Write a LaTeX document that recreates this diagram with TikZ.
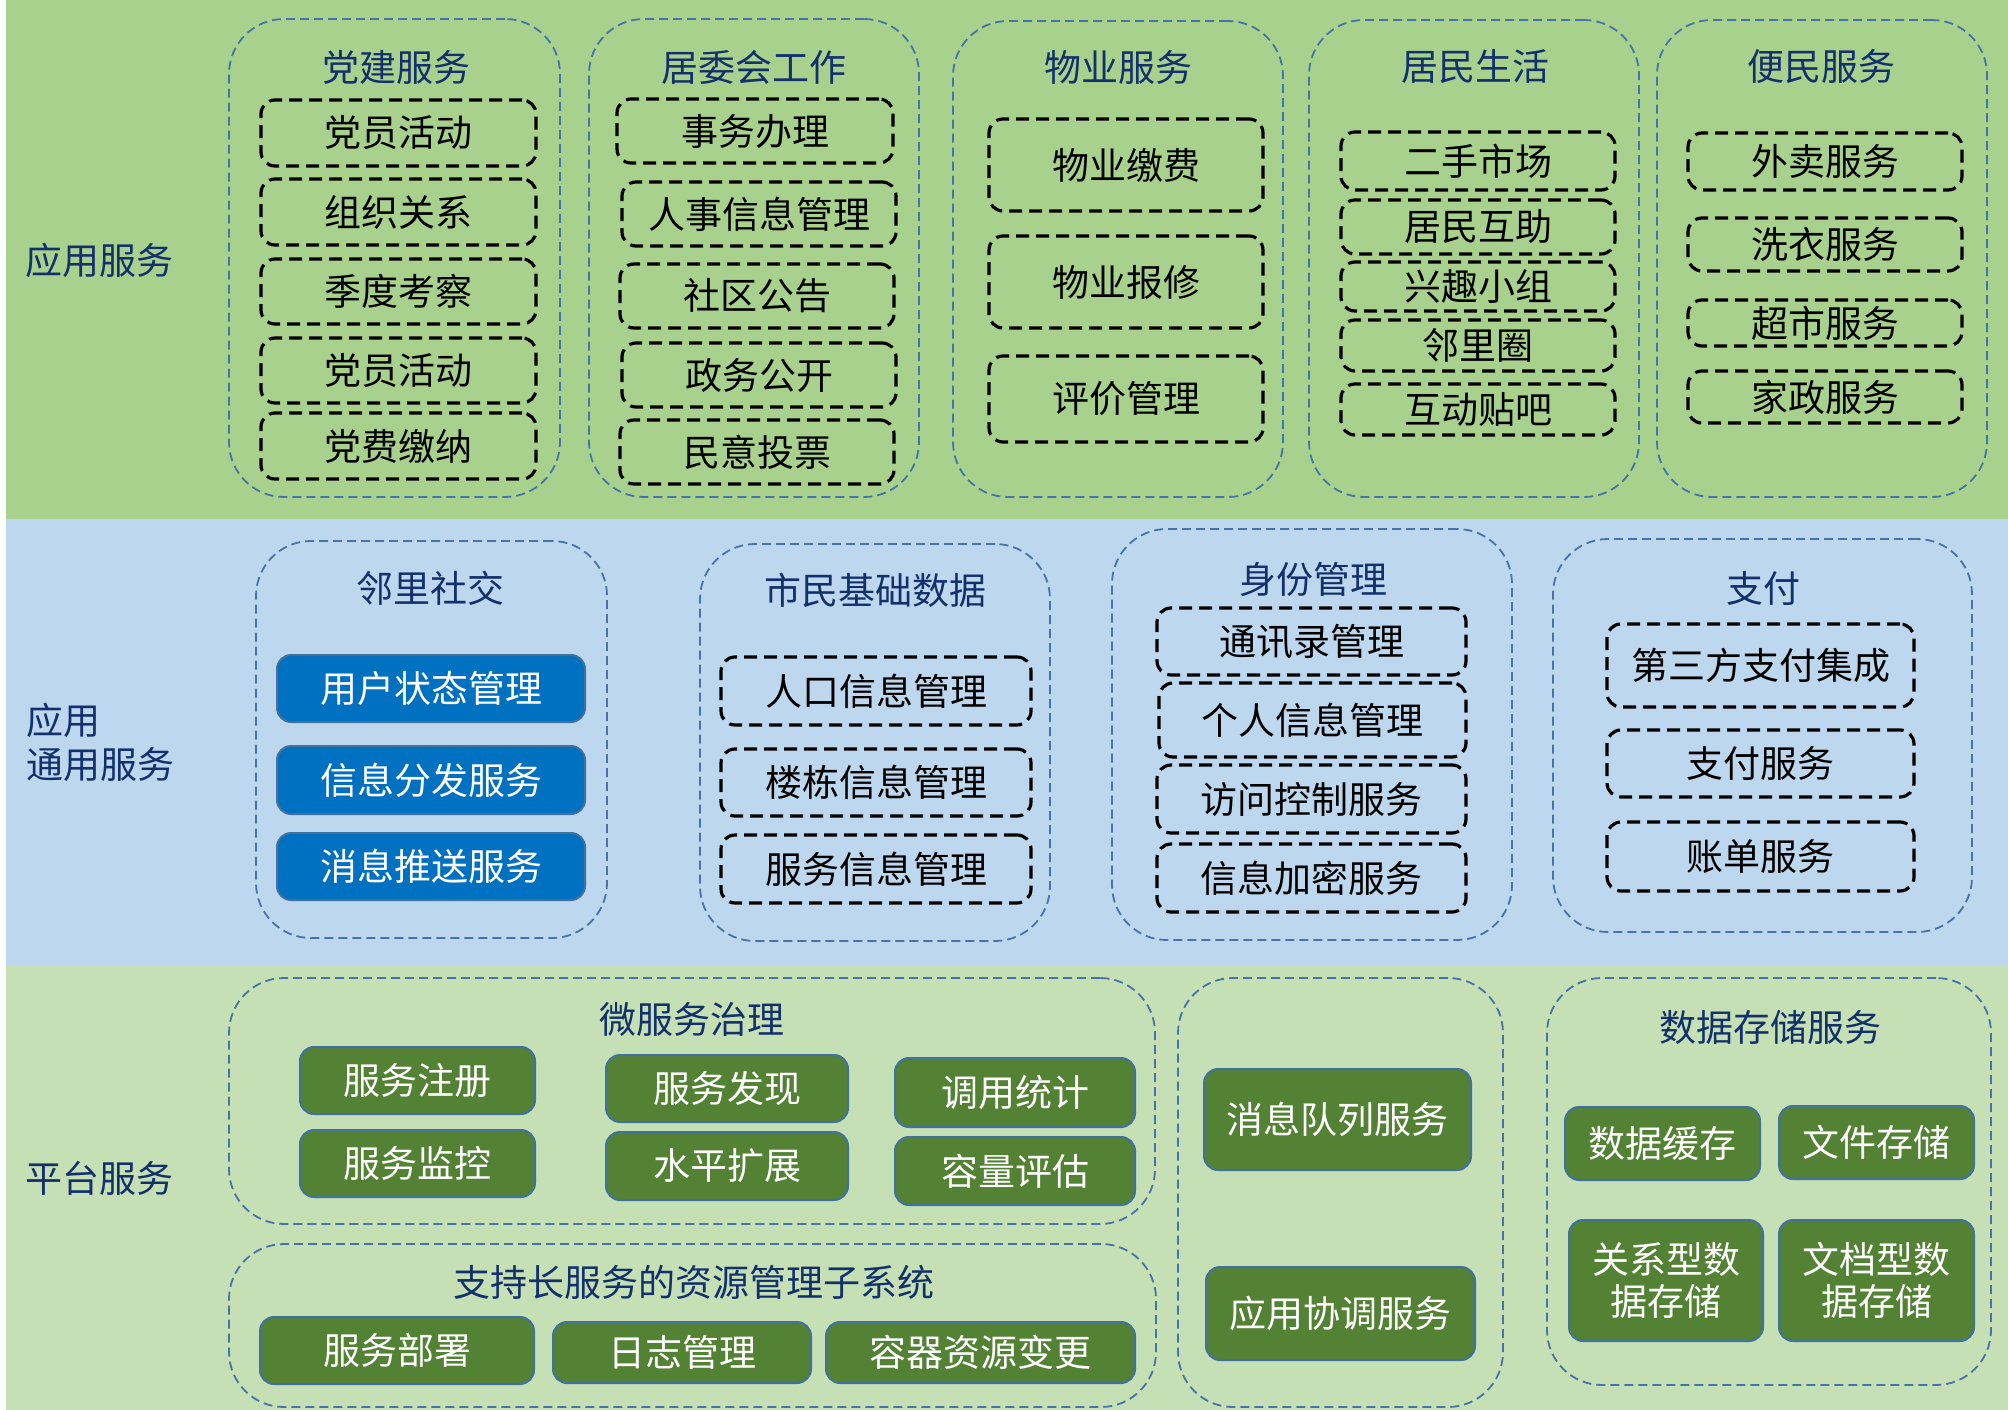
\documentclass[tikz,border=0pt]{standalone}
\usepackage{fontspec}
\newfontfamily\cjk{Noto Sans CJK SC}
\definecolor{topc}{HTML}{A9D18E}
\definecolor{midc}{HTML}{BDD7EE}
\definecolor{botc}{HTML}{C5E0B4}
\definecolor{grpc}{HTML}{4A72A6}
\definecolor{navy}{HTML}{14306B}
\definecolor{blu}{HTML}{0070C0}
\definecolor{grn}{HTML}{548235}
\definecolor{bdr}{HTML}{41719C}
\newcommand\bx[7]{\node[#6, minimum width={(#4-#2)*1pt}, minimum height={(#5-#3)*1pt}] (#1) at ({(#2+#4)/2},{(#3+#5)/2}) {#7};}
\begin{document}
\begin{tikzpicture}[x=1pt,y=-1pt,
  every node/.style={font=\cjk\fontsize{37}{42}\selectfont, inner sep=0pt, outer sep=0pt},
  grp/.style={draw=grpc, line width=1.8pt, dash pattern=on 9pt off 5pt, rounded corners=55pt},
  dbox/.style={draw=black, line width=3.2pt, dash pattern=on 13pt off 7pt, rounded corners=14pt, text=black},
  bbox/.style={fill=blu, draw=bdr, line width=2pt, rounded corners=14pt, text=white},
  gbox/.style={fill=grn, draw=bdr, line width=2pt, rounded corners=14pt, text=white},
  ttl/.style={text=navy}]
\useasboundingbox (0,0) rectangle (2008,1410);
\fill[white] (0,0) rectangle (2008,1410);
\fill[topc] (6,0) rectangle (2008,519);
\fill[midc] (6,519) rectangle (2008,965);
\fill[botc] (6,965) rectangle (2008,1410);

% row labels
\node[ttl] (l1) at (99,260) {应用服务};
\node[ttl, anchor=west] (l2a) at (26,720) {应用};
\node[ttl, anchor=west] (l2b) at (26,765) {通用服务};
\node[ttl] (l3) at (99,1178) {平台服务};

% ---- top row groups
\bx{g1}{229}{19}{560}{497}{grp}{}
\node[ttl] (t1) at (396,67) {党建服务};
\bx{a1}{261}{100}{536}{166}{dbox}{党员活动}
\bx{a2}{261}{179}{536}{245}{dbox}{组织关系}
\bx{a3}{261}{259}{536}{324}{dbox}{季度考察}
\bx{a4}{261}{338}{536}{403}{dbox}{党员活动}
\bx{a5}{261}{413}{536}{479}{dbox}{党费缴纳}

\bx{g2}{589}{19}{919}{497}{grp}{}
\node[ttl] (t2) at (754,67) {居委会工作};
\bx{b1}{617}{99}{893}{163}{dbox}{事务办理}
\bx{b2}{622}{182}{896}{246}{dbox}{人事信息管理}
\bx{b3}{620}{264}{894}{328}{dbox}{社区公告}
\bx{b4}{622}{343}{896}{407}{dbox}{政务公开}
\bx{b5}{620}{420}{894}{484}{dbox}{民意投票}

\bx{g3}{953}{21}{1283}{497}{grp}{}
\node[ttl] (t3) at (1118,67) {物业服务};
\bx{c1}{989}{119}{1263}{211}{dbox}{物业缴费}
\bx{c2}{989}{236}{1263}{328}{dbox}{物业报修}
\bx{c3}{989}{356}{1263}{442}{dbox}{评价管理}

\bx{g4}{1309}{20}{1639}{497}{grp}{}
\node[ttl] (t4) at (1475,67) {居民生活};
\bx{d1}{1341}{132}{1615}{190}{dbox}{二手市场}
\bx{d2}{1341}{200}{1615}{254}{dbox}{居民互助}
\bx{d3}{1341}{262}{1615}{311}{dbox}{兴趣小组}
\bx{d4}{1341}{320}{1615}{371}{dbox}{邻里圈}
\bx{d5}{1341}{384}{1615}{435}{dbox}{互动贴吧}

\bx{g5}{1657}{20}{1987}{497}{grp}{}
\node[ttl] (t5) at (1821,67) {便民服务};
\bx{e1}{1688}{133}{1962}{190}{dbox}{外卖服务}
\bx{e2}{1688}{218}{1962}{271}{dbox}{洗衣服务}
\bx{e3}{1688}{300}{1962}{346}{dbox}{超市服务}
\bx{e4}{1688}{371}{1962}{423}{dbox}{家政服务}

% ---- middle row groups
\bx{g6}{256}{541}{607}{938}{grp}{}
\node[ttl] (t6) at (430,588) {邻里社交};
\bx{f1}{277}{655}{585}{722}{bbox}{用户状态管理}
\bx{f2}{277}{746}{585}{814}{bbox}{信息分发服务}
\bx{f3}{277}{833}{585}{900}{bbox}{消息推送服务}

\bx{g7}{700}{544}{1050}{941}{grp}{}
\node[ttl] (t7) at (875,590) {市民基础数据};
\bx{h1}{721}{657}{1031}{725}{dbox}{人口信息管理}
\bx{h2}{721}{749}{1031}{816}{dbox}{楼栋信息管理}
\bx{h3}{721}{835}{1031}{903}{dbox}{服务信息管理}

\bx{g8}{1112}{529}{1512}{940}{grp}{}
\node[ttl] (t8) at (1313,580) {身份管理};
\bx{i1}{1157}{608}{1466}{675}{dbox}{通讯录管理}
\bx{i2}{1159}{683}{1466}{757}{dbox}{个人信息管理}
\bx{i3}{1157}{765}{1466}{833}{dbox}{访问控制服务}
\bx{i4}{1157}{844}{1466}{912}{dbox}{信息加密服务}

\bx{g9}{1553}{539}{1972}{932}{grp}{}
\node[ttl] (t9) at (1763,588) {支付};
\bx{j1}{1607}{624}{1914}{707}{dbox}{第三方支付集成}
\bx{j2}{1607}{730}{1914}{797}{dbox}{支付服务}
\bx{j3}{1607}{822}{1914}{891}{dbox}{账单服务}

% ---- bottom row groups
\bx{g10}{229}{978}{1155}{1224}{grp}{}
\node[ttl] (t10) at (692,1019) {微服务治理};
\bx{k1}{300}{1047}{535}{1114}{gbox}{服务注册}
\bx{k2}{300}{1130}{535}{1197}{gbox}{服务监控}
\bx{k3}{606}{1055}{848}{1122}{gbox}{服务发现}
\bx{k4}{606}{1132}{848}{1200}{gbox}{水平扩展}
\bx{k5}{895}{1058}{1135}{1127}{gbox}{调用统计}
\bx{k6}{895}{1137}{1135}{1205}{gbox}{容量评估}

\bx{g11}{229}{1244}{1156}{1407}{grp}{}
\node[ttl] (t11) at (694,1282) {支持长服务的资源管理子系统};
\bx{m1}{260}{1317}{534}{1384}{gbox}{服务部署}
\bx{m2}{553}{1322}{811}{1383}{gbox}{日志管理}
\bx{m3}{826}{1322}{1135}{1383}{gbox}{容器资源变更}

\bx{g12}{1178}{978}{1503}{1407}{grp}{}
\bx{n1}{1204}{1069}{1471}{1170}{gbox}{消息队列服务}
\bx{n2}{1206}{1267}{1475}{1360}{gbox}{应用协调服务}

\bx{g13}{1547}{978}{1991}{1385}{grp}{}
\node[ttl] (t13) at (1770,1027) {数据存储服务};
\bx{o1}{1565}{1107}{1760}{1180}{gbox}{数据缓存}
\bx{o2}{1779}{1106}{1974}{1179}{gbox}{文件存储}
\bx{o3}{1569}{1220}{1763}{1341}{gbox,align=center}{关系型数\\据存储}
\bx{o4}{1779}{1220}{1974}{1341}{gbox,align=center}{文档型数\\据存储}
\end{tikzpicture}
\end{document}
